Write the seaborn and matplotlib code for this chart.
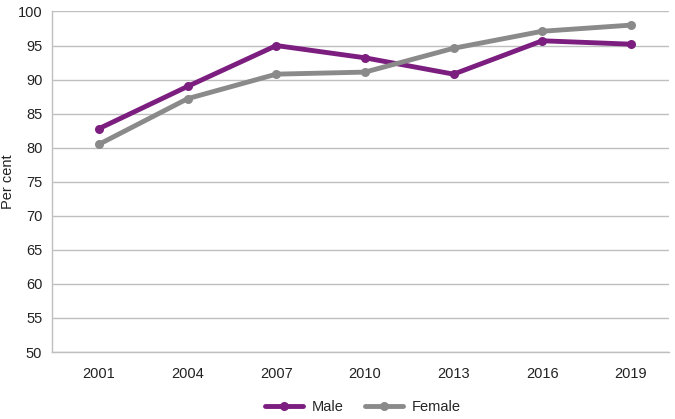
import matplotlib
matplotlib.use("Agg")
import matplotlib.pyplot as plt
import seaborn as sns
import pandas as pd

years = ["2001", "2004", "2007", "2010", "2013", "2016", "2019"]
male = [82.8, 89.0, 95.0, 93.2, 90.8, 95.7, 95.2]
female = [80.5, 87.2, 90.8, 91.1, 94.6, 97.1, 98.0]
series_names = ["Male", "Female"]
colors = {"Male": "#7B1E7F", "Female": "#8A8A8A"}

sns.set_style("white")
plt.rcParams["font.family"] = ["Liberation Sans", "DejaVu Sans"]

pos = list(range(len(years)))
df = pd.DataFrame({
    "pos": pos * 2,
    "value": male + female,
    "series": ["Male"] * len(years) + ["Female"] * len(years),
})

fig = plt.figure(figsize=(6.75, 4.19), dpi=100)
ax = fig.add_axes([52 / 675, 1 - 352 / 419, (669 - 52) / 675, (352 - 11.5) / 419])

sns.lineplot(data=df, x="pos", y="value", hue="series", hue_order=series_names,
             palette=colors, marker="o", markersize=6.5, markeredgewidth=0,
             linewidth=3.5, ax=ax, legend=True, zorder=3)

fs = 10.5
ax.set_ylim(50, 100)
ax.set_yticks(range(50, 101, 5))
ax.set_xlim(-0.53, 6.43)
ax.set_xticks(pos)
ax.set_xticklabels(years)
ax.grid(axis="y", color="#BFBFBF", linewidth=1)
ax.set_axisbelow(True)
for s in ["top", "right"]:
    ax.spines[s].set_visible(False)
for s in ["left", "bottom"]:
    ax.spines[s].set_color("#BFBFBF")
    ax.spines[s].set_linewidth(1)
ax.tick_params(axis="x", direction="in", length=8, color="#BFBFBF", pad=11, labelsize=fs, labelcolor="#222222")
ax.tick_params(axis="y", direction="out", length=4, color="#BFBFBF", pad=3, labelsize=fs, labelcolor="#222222")
ax.set_xlabel("")
ax.set_ylabel("Per cent", fontsize=fs, color="#222222")
ax.yaxis.set_label_coords(-37 / 617, 0.5)

handles, labels = ax.get_legend_handles_labels()
ax.legend(handles, labels, loc="center", bbox_to_anchor=(0.5 + 2.5 / 617, -55 / 340.5),
          ncol=2, frameon=False, fontsize=fs, handlelength=2.6, columnspacing=1.5,
          handletextpad=0.6, borderaxespad=0)

fig.savefig("out.png", dpi=100)
